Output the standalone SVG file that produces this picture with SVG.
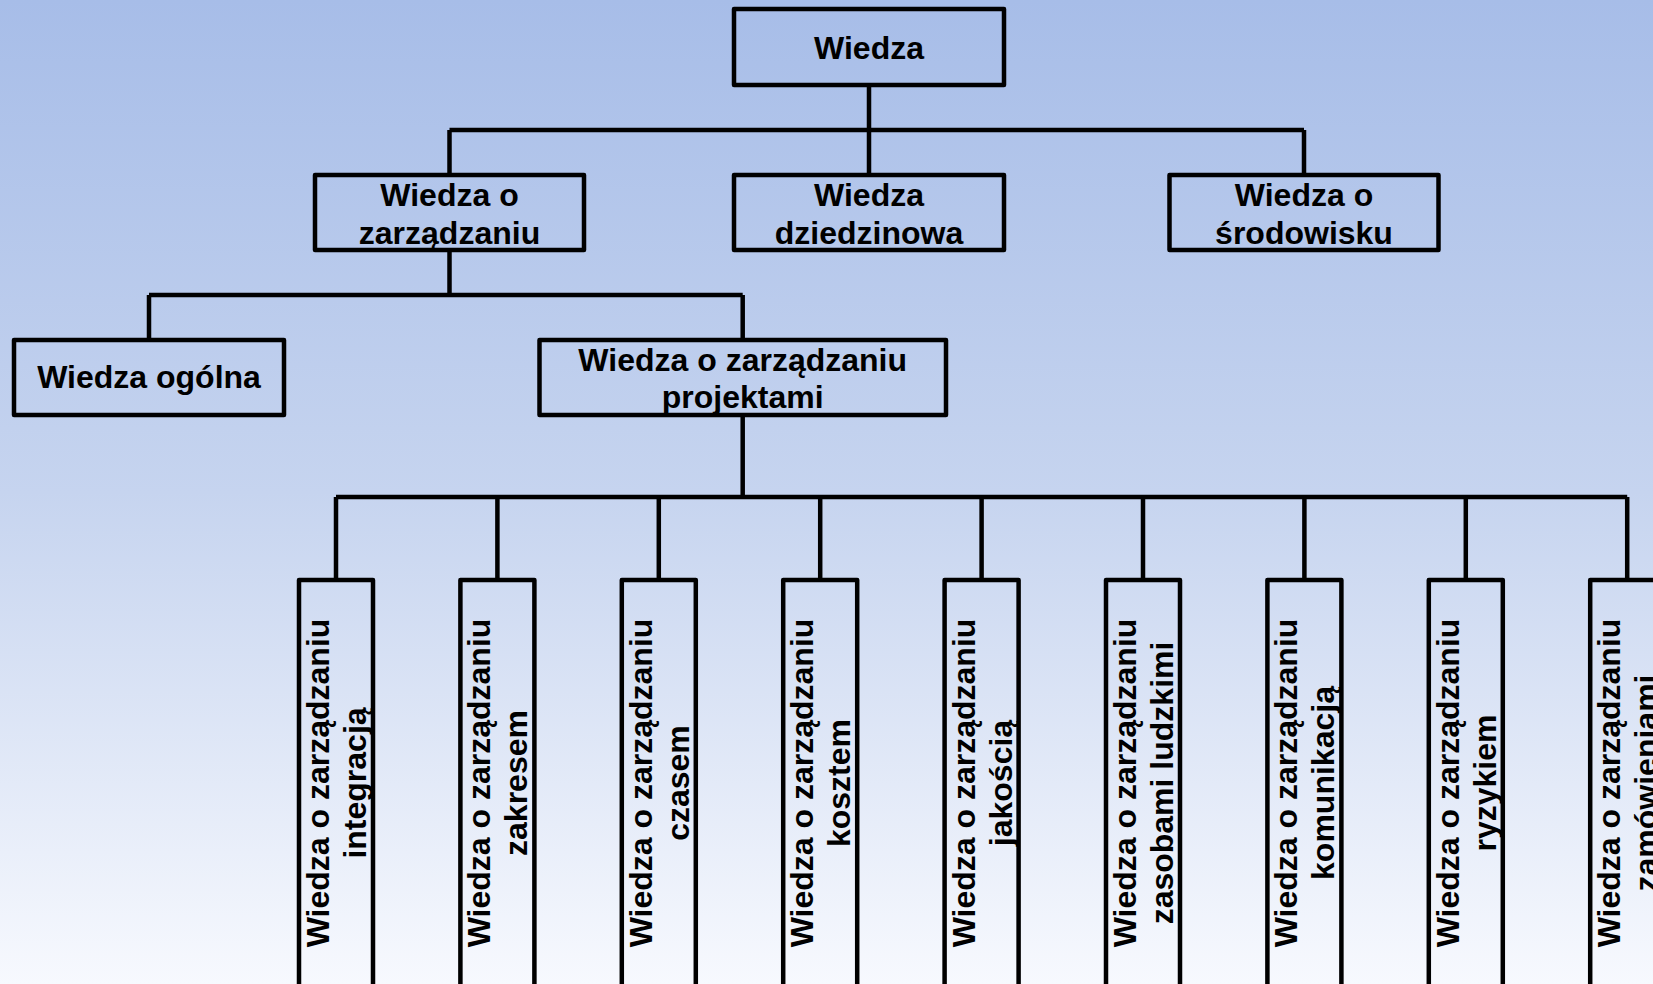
<svg xmlns="http://www.w3.org/2000/svg" width="1653" height="984" viewBox="0 0 1653 984">
  <defs>
    <linearGradient id="bg" x1="0" y1="0" x2="0" y2="1">
      <stop offset="0" stop-color="#a7bde8"/>
      <stop offset="0.5" stop-color="#c6d4ef"/>
      <stop offset="1" stop-color="#f7f9fe"/>
    </linearGradient>
  </defs>
  <style>
    .box { fill: none; stroke: #000; stroke-width: 4.5; stroke-linejoin: round; }
    .link { fill: none; stroke: #000; stroke-width: 4.5; stroke-linejoin: miter; }
    .lbl { font-family: "Liberation Sans", Arial, sans-serif; font-weight: bold; font-size: 32px; fill: #000; text-anchor: middle; }
  </style>

  <rect x="0" y="0" width="1653" height="984" fill="url(#bg)"/>

  <!-- tree connectors -->
  <g id="connectors">
    <path class="link" d="M869,85 V130 M449.5,130 H1304 M449.5,130 V175 M869,130 V175 M1304,130 V175"/>
    <path class="link" d="M449.5,250 V295 M149,295 H742.7 M149,295 V340 M742.7,295 V340"/>
    <path class="link" d="M742.7,415 V497 M336,497 H1627.2"/>
    <path class="link" d="M336,497 V580 M497.4,497 V580 M658.8,497 V580 M820.2,497 V580 M981.6,497 V580 M1143,497 V580 M1304.4,497 V580 M1465.8,497 V580 M1627.2,497 V580"/>
  </g>

  <!-- level 0 -->
  <g id="wiedza">
    <rect class="box" x="734" y="9" width="270" height="76"/>
    <text class="lbl" x="869" y="59">Wiedza</text>
  </g>

  <!-- level 1 -->
  <g id="wiedza-o-zarzadzaniu">
    <rect class="box" x="315" y="175" width="269" height="75"/>
    <text class="lbl" x="449.5" y="206">Wiedza o</text>
    <text class="lbl" x="449.5" y="244">zarządzaniu</text>
  </g>
  <g id="wiedza-dziedzinowa">
    <rect class="box" x="734" y="175" width="270" height="75"/>
    <text class="lbl" x="869" y="206">Wiedza</text>
    <text class="lbl" x="869" y="244">dziedzinowa</text>
  </g>
  <g id="wiedza-o-srodowisku">
    <rect class="box" x="1169.5" y="175" width="269" height="75"/>
    <text class="lbl" x="1304" y="206">Wiedza o</text>
    <text class="lbl" x="1304" y="244">środowisku</text>
  </g>

  <!-- level 2 -->
  <g id="wiedza-ogolna">
    <rect class="box" x="14" y="340" width="270" height="75"/>
    <text class="lbl" x="149" y="388">Wiedza ogólna</text>
  </g>
  <g id="wiedza-o-zarzadzaniu-projektami">
    <rect class="box" x="539.5" y="340" width="406.5" height="75"/>
    <text class="lbl" x="742.7" y="371">Wiedza o zarządzaniu</text>
    <text class="lbl" x="742.7" y="408">projektami</text>
  </g>

  <!-- level 3: knowledge areas, rotated labels -->
  <g id="integracja">
    <rect class="box" x="299" y="580" width="74" height="440"/>
    <text class="lbl" transform="translate(336,783) rotate(-90)"><tspan x="0" y="-7">Wiedza o zarządzaniu</tspan><tspan x="0" y="30">integracją</tspan></text>
  </g>
  <g id="zakres">
    <rect class="box" x="460.4" y="580" width="74" height="440"/>
    <text class="lbl" transform="translate(497.4,783) rotate(-90)"><tspan x="0" y="-7">Wiedza o zarządzaniu</tspan><tspan x="0" y="30">zakresem</tspan></text>
  </g>
  <g id="czas">
    <rect class="box" x="621.8" y="580" width="74" height="440"/>
    <text class="lbl" transform="translate(658.8,783) rotate(-90)"><tspan x="0" y="-7">Wiedza o zarządzaniu</tspan><tspan x="0" y="30">czasem</tspan></text>
  </g>
  <g id="koszt">
    <rect class="box" x="783.2" y="580" width="74" height="440"/>
    <text class="lbl" transform="translate(820.2,783) rotate(-90)"><tspan x="0" y="-7">Wiedza o zarządzaniu</tspan><tspan x="0" y="30">kosztem</tspan></text>
  </g>
  <g id="jakosc">
    <rect class="box" x="944.6" y="580" width="74" height="440"/>
    <text class="lbl" transform="translate(981.6,783) rotate(-90)"><tspan x="0" y="-7">Wiedza o zarządzaniu</tspan><tspan x="0" y="30">jakością</tspan></text>
  </g>
  <g id="zasoby-ludzkie">
    <rect class="box" x="1106" y="580" width="74" height="440"/>
    <text class="lbl" transform="translate(1143,783) rotate(-90)"><tspan x="0" y="-7">Wiedza o zarządzaniu</tspan><tspan x="0" y="30">zasobami ludzkimi</tspan></text>
  </g>
  <g id="komunikacja">
    <rect class="box" x="1267.4" y="580" width="74" height="440"/>
    <text class="lbl" transform="translate(1304.4,783) rotate(-90)"><tspan x="0" y="-7">Wiedza o zarządzaniu</tspan><tspan x="0" y="30">komunikacją</tspan></text>
  </g>
  <g id="ryzyko">
    <rect class="box" x="1428.8" y="580" width="74" height="440"/>
    <text class="lbl" transform="translate(1465.8,783) rotate(-90)"><tspan x="0" y="-7">Wiedza o zarządzaniu</tspan><tspan x="0" y="30">ryzykiem</tspan></text>
  </g>
  <g id="zamowienia">
    <rect class="box" x="1590.2" y="580" width="74" height="440"/>
    <text class="lbl" transform="translate(1627.2,783) rotate(-90)"><tspan x="0" y="-7">Wiedza o zarządzaniu</tspan><tspan x="0" y="30">zamówieniami</tspan></text>
  </g>
</svg>
